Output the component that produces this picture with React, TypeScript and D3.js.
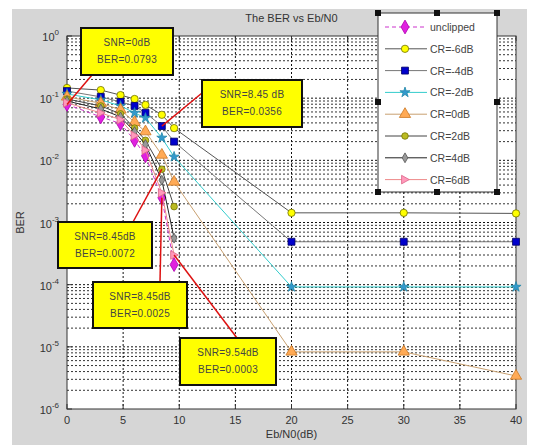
import React from "react";
import * as d3 from "d3";

// Eb/N0 sample points (dB)
const snrLow = [0, 3.01, 4.77, 6.02, 6.99, 8.45, 9.54];
const snrHigh = [20, 30, 40];

// BER curves
const unclipped = [0.0793, 0.05, 0.039, 0.021, 0.0118, 0.0025, 0.00021];
const crM6 = [0.146, 0.135, 0.112, 0.097, 0.078, 0.054, 0.033, 0.00143, 0.00143, 0.0014];
const crM4 = [0.13, 0.105, 0.087, 0.075, 0.058, 0.0356, 0.02, 0.00049, 0.00049, 0.00049];
const crM2 = [0.117, 0.094, 0.075, 0.058, 0.048, 0.023, 0.0114, 0.000092, 0.000092, 0.000092];
const cr0 = [0.105, 0.083, 0.065, 0.041, 0.029, 0.0122, 0.0045, 0.0000083, 0.0000083, 0.0000034];
const cr2 = [0.097, 0.075, 0.056, 0.033, 0.021, 0.0072, 0.0018];
const cr4 = [0.09, 0.067, 0.05, 0.029, 0.018, 0.0048, 0.00056];
const cr6 = [0.084, 0.058, 0.045, 0.025, 0.0146, 0.003, 0.0003];

const seriesNames = ["unclipped", "CR=-6dB", "CR=-4dB", "CR=-2dB", "CR=0dB", "CR=2dB", "CR=4dB", "CR=6dB"];
const seriesValues = [unclipped, crM6, crM4, crM2, cr0, cr2, cr4, cr6];

const xTicks = [0, 5, 10, 15, 20, 25, 30, 35, 40];
const yExponents = [0, -1, -2, -3, -4, -5, -6];

// data-tip annotations: [series index, point index]
const tipSeries = [0, 2, 5, 0, 7];
const tipPoint = [0, 5, 5, 5, 6];

const W = 534;
const H = 447;
const plot = { left: 67, right: 516, top: 36, bottom: 409 };

const styles = [
  { line: "#cc33cc", dash: "4 3", marker: "diamond", fill: "#e020e0", stroke: "#b000b0", size: 55 },
  { line: "#555555", dash: "", marker: "circle", fill: "#ffff00", stroke: "#707000", size: 42 },
  { line: "#777777", dash: "", marker: "square", fill: "#0000cc", stroke: "#000066", size: 48 },
  { line: "#33cccc", dash: "", marker: "star", fill: "#3399cc", stroke: "#2288aa", size: 32 },
  { line: "#c8a070", dash: "", marker: "triangle", fill: "#ffaa55", stroke: "#cc7722", size: 55 },
  { line: "#444444", dash: "", marker: "circle", fill: "#bbbb22", stroke: "#777700", size: 34 },
  { line: "#222222", dash: "", marker: "diamond", fill: "#999999", stroke: "#555555", size: 28 },
  { line: "#ee8888", dash: "", marker: "right", fill: "#ff99bb", stroke: "#dd6688", size: 48 },
];

// annotation box layout
const tipBoxes = [
  { x: 81, y: 28, w: 92, h: 47, ax: 92, ay: 75 },
  { x: 202, y: 80, w: 100, h: 47, ax: 202, ay: 93 },
  { x: 58, y: 222, w: 94, h: 46, ax: 133, ay: 222 },
  { x: 93, y: 282, w: 94, h: 46, ax: 160, ay: 282 },
  { x: 180, y: 338, w: 96, h: 47, ax: 237, ay: 338 },
];
const tipSpaced = [false, true, false, false, false];

function markerPath(kind: string, size: number): string {
  if (kind === "right") {
    const r = Math.sqrt(size) * 0.62;
    return `M${r},0L${-r * 0.8},${-r}L${-r * 0.8},${r}Z`;
  }
  const map: Record<string, d3.SymbolType> = {
    diamond: d3.symbolDiamond,
    circle: d3.symbolCircle,
    square: d3.symbolSquare,
    star: d3.symbolStar,
    triangle: d3.symbolTriangle,
  };
  return d3.symbol().type(map[kind]).size(size)() as string;
}

export default function App() {
  const x = d3.scaleLinear().domain([0, 40]).range([plot.left, plot.right]);
  const y = d3.scaleLog().domain([1e-6, 1]).range([plot.bottom, plot.top]);
  const allX = snrLow.concat(snrHigh);

  const line = d3
    .line<[number, number]>()
    .x((d) => x(d[0]))
    .y((d) => y(d[1]));

  const minorY: number[] = [];
  for (let e = -6; e < 0; e++) {
    for (let m = 2; m <= 9; m++) minorY.push(m * Math.pow(10, e));
  }

  const font = "'Liberation Sans', Arial, sans-serif";
  const gridStyle = { stroke: "#111", strokeWidth: 1, strokeDasharray: "2 2" };

  return (
    <svg width={W} height={H} style={{ position: "absolute", left: 0, top: 0 }} fontFamily={font}>
      <rect x={12} y={9} width={515} height={436} fill="#d6d6d6" />
      <rect x={plot.left} y={plot.top} width={plot.right - plot.left} height={plot.bottom - plot.top} fill="#fff" />

      {/* grid */}
      {minorY.map((v, i) => (
        <line key={"my" + i} x1={plot.left} x2={plot.right} y1={y(v)} y2={y(v)} {...gridStyle} opacity={0.85} />
      ))}
      {yExponents.slice(1, -1).map((e) => (
        <line key={"gy" + e} x1={plot.left} x2={plot.right} y1={y(Math.pow(10, e))} y2={y(Math.pow(10, e))} {...gridStyle} />
      ))}
      {xTicks.slice(1, -1).map((t) => (
        <line key={"gx" + t} x1={x(t)} x2={x(t)} y1={plot.top} y2={plot.bottom} {...gridStyle} />
      ))}

      {/* axes box */}
      <rect x={plot.left} y={plot.top} width={plot.right - plot.left} height={plot.bottom - plot.top} fill="none" stroke="#333" strokeWidth={1} />
      {xTicks.map((t) => (
        <g key={"xt" + t}>
          <line x1={x(t)} x2={x(t)} y1={plot.bottom} y2={plot.bottom - 5} stroke="#333" />
          <line x1={x(t)} x2={x(t)} y1={plot.top} y2={plot.top + 5} stroke="#333" />
          <text x={x(t)} y={plot.bottom + 15} textAnchor="middle" fontSize={11} fill="#333">
            {t}
          </text>
        </g>
      ))}
      {yExponents.map((e) => (
        <g key={"yt" + e}>
          <line x1={plot.left} x2={plot.left + 5} y1={y(Math.pow(10, e))} y2={y(Math.pow(10, e))} stroke="#333" />
          <text x={plot.left - 8} y={y(Math.pow(10, e)) + 5} textAnchor="end" fontSize={11} fill="#333">
            10
            <tspan dy={-6} fontSize={8}>
              {e}
            </tspan>
          </text>
        </g>
      ))}

      {/* curves */}
      {seriesValues.map((vals, si) => {
        const pts = vals.map((v, i) => [allX[i], v] as [number, number]);
        const st = styles[si];
        return (
          <g key={"s" + si}>
            <path d={line(pts) as string} fill="none" stroke={st.line} strokeWidth={1} strokeDasharray={st.dash} />
            {pts.map((p, i) => (
              <path
                key={i}
                d={markerPath(st.marker, st.size)}
                transform={`translate(${x(p[0])},${y(p[1])})`}
                fill={st.fill}
                stroke={st.stroke}
                strokeWidth={0.8}
              />
            ))}
          </g>
        );
      })}

      {/* data tips */}
      {tipBoxes.map((b, i) => {
        const sx = allX[tipPoint[i]];
        const sv = seriesValues[tipSeries[i]][tipPoint[i]];
        const snrText = sx === 0 ? "0" : sx.toFixed(2);
        const lineA = "SNR=" + snrText + (tipSpaced[i] ? " dB" : "dB");
        const lineB = "BER=" + d3.format(".4f")(sv);
        return (
          <g key={"tip" + i}>
            <line x1={b.ax} y1={b.ay} x2={x(sx)} y2={y(sv)} stroke="#dd1111" strokeWidth={1.5} />
            <rect x={b.x} y={b.y} width={b.w} height={b.h} fill="#ffff00" stroke="#111" strokeWidth={2} />
            <text x={b.x + b.w / 2} y={b.y + 18} textAnchor="middle" fontSize={10} fill="#444" letterSpacing={0.3}>
              {lineA}
            </text>
            <text x={b.x + b.w / 2} y={b.y + 35} textAnchor="middle" fontSize={10} fill="#444" letterSpacing={0.3}>
              {lineB}
            </text>
          </g>
        );
      })}

      {/* legend */}
      <g>
        <rect x={378} y={13} width={119} height={179} fill="#fff" stroke="#333" strokeWidth={1} />
        {seriesNames.map((name, i) => {
          const ly = 27 + i * 21.8;
          const st = styles[i];
          return (
            <g key={"lg" + i}>
              <line x1={385} x2={427} y1={ly} y2={ly} stroke={st.line} strokeWidth={1} strokeDasharray={st.dash} />
              <path
                d={markerPath(st.marker, st.size)}
                transform={`translate(405,${ly})`}
                fill={st.fill}
                stroke={st.stroke}
                strokeWidth={0.8}
              />
              <text x={430} y={ly + 4} fontSize={10.5} fill="#444">
                {name}
              </text>
            </g>
          );
        })}
        {[
          [378, 13],
          [437, 13],
          [497, 13],
          [378, 102],
          [497, 102],
          [378, 192],
          [437, 192],
          [497, 192],
        ].map(([hx, hy], i) => (
          <rect key={"h" + i} x={hx - 3} y={hy - 3} width={6} height={6} fill="#111" />
        ))}
      </g>

      {/* titles */}
      <text x={(plot.left + plot.right) / 2} y={22} textAnchor="middle" fontSize={11} fill="#333">
        The BER vs Eb/N0
      </text>
      <text x={(plot.left + plot.right) / 2} y={438} textAnchor="middle" fontSize={11} fill="#333">
        Eb/N0(dB)
      </text>
      <text
        transform={`translate(24,${(plot.top + plot.bottom) / 2}) rotate(-90)`}
        textAnchor="middle"
        fontSize={11}
        fill="#333"
      >
        BER
      </text>
    </svg>
  );
}
